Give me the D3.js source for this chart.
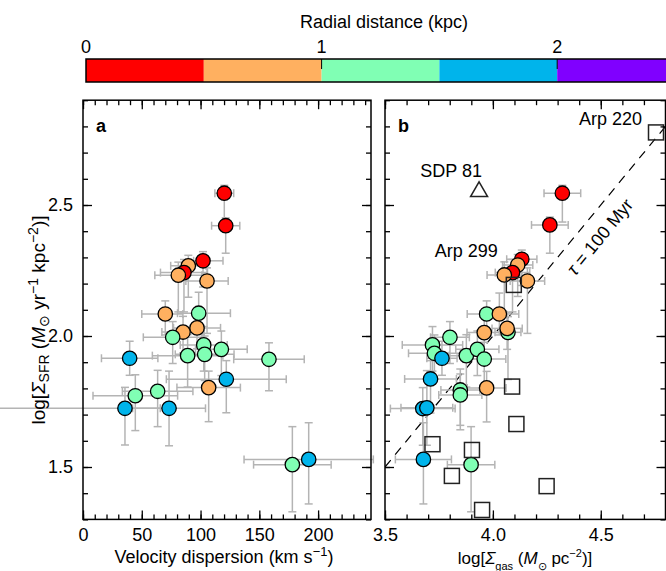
<!DOCTYPE html>
<html>
<head>
<meta charset="utf-8">
<script src="https://cdn.jsdelivr.net/npm/d3@7"></script>
<style>
  body { margin: 0; background: #fff; }
  svg { font-family: 'Liberation Sans', Arial, sans-serif; }
  .ax line { stroke: #000; stroke-width: 1.3; }
  .ax text { font-size: 18px; font-family: 'Liberation Sans', Arial, sans-serif; fill: #000; }
  .frame { fill: none; stroke: #000; stroke-width: 1.5; }
  .err { stroke: #b4b4b4; stroke-width: 1.5; fill: none; }
  .dot { stroke: #000; stroke-width: 1.3; }
  .other { fill: none; stroke: #222; stroke-width: 1.5; }
</style>
</head>
<body>
<script>
// colour bar: radial distance bins (kpc)
var binEdges = [0, 0.5, 1, 1.5, 2, 2.5];
var binColors = ['#ff0000', '#ffb060', '#80ffb4', '#00b4eb', '#8000ff'];
var barTicks = [0, 1, 2];

// panel a: velocity dispersion vs SFR surface density
var aVel   = [120.2, 121.4, 102.1, 89.6, 85.9, 81.1, 105.5, 70.0, 98.4, 85.1, 97.0, 76.3, 102.7,
              117.7, 89.0, 103.5, 39.7, 121.9, 106.9, 63.5, 44.5, 35.7, 73.2, 158.2, 178.1, 192.0];
var aVelLo = [8, 12, 8, 15, 20, 20, 18, 20, 18, 18, 20, 25, 20, 22, 30, 25, 24, 51, 27, 30, 36, 120, 31, 30, 33, 55];
var aVelHi = [8, 12, 17, 15, 20, 20, 18, 15, 27, 18, 20, 25, 20, 22, 30, 25, 24, 51, 27, 30, 36, 30, 31, 30, 33, 55];
var aSfr   = [2.545, 2.421, 2.287, 2.268, 2.242, 2.232, 2.210, 2.084, 2.087, 2.015, 2.031, 1.995, 1.966,
              1.949, 1.925, 1.930, 1.915, 1.835, 1.803, 1.789, 1.772, 1.724, 1.724, 1.911, 1.509, 1.529];
var aSfrLo = [0.12, 0.105, 0.10, 0.12, 0.15, 0.14, 0.20, 0.08, 0.08, 0.08, 0.08, 0.10, 0.10,
              0.10, 0.12, 0.10, 0.065, 0.128, 0.13, 0.135, 0.133, 0.14, 0.143, 0.12, 0.18, 0.17];
var aSfrHi = [0.03, 0.03, 0.035, 0.04, 0.05, 0.05, 0.05, 0.05, 0.08, 0.06, 0.06, 0.06, 0.07,
              0.07, 0.08, 0.07, 0.065, 0.071, 0.063, 0.08, 0.08, 0.08, 0.142, 0.063, 0.145, 0.14];
var aBin   = [0, 0, 0, 1, 0, 1, 1, 1, 2, 1, 1, 2, 2, 2, 2, 2, 3, 3, 1, 2, 2, 3, 3, 2, 2, 3];

// panel b: gas surface density vs SFR surface density
var bGas   = [4.322, 4.264, 4.134, 4.115, 4.091, 4.053, 4.160, 3.971, 4.030, 4.070, 4.066, 3.960, 3.801, 3.720,
              3.729, 3.877, 3.928, 3.960, 3.764, 3.711, 3.971, 3.849, 3.849, 3.675, 3.694, 3.899, 3.678];
var bGasErr = [0.085, 0.085, 0.07, 0.07, 0.08, 0.08, 0.08, 0.09, 0.09, 0.06, 0.07, 0.08, 0.09, 0.14,
               0.12, 0.08, 0.10, 0.10, 0.07, 0.12, 0.09, 0.09, 0.10, 0.15, 0.12, 0.11, 0.13];
var bSfr   = [2.545, 2.424, 2.293, 2.271, 2.242, 2.233, 2.210, 2.084, 2.084, 2.014, 2.029, 2.013, 1.995, 1.966,
              1.934, 1.925, 1.949, 1.912, 1.915, 1.836, 1.802, 1.794, 1.775, 1.723, 1.726, 1.509, 1.529];
var bSfrLo = [0.11, 0.108, 0.10, 0.12, 0.15, 0.14, 0.20, 0.08, 0.08, 0.18, 0.08, 0.08, 0.10, 0.10,
              0.10, 0.12, 0.10, 0.12, 0.065, 0.13, 0.13, 0.135, 0.133, 0.14, 0.143, 0.18, 0.17];
var bSfrHi = [0.03, 0.03, 0.035, 0.04, 0.05, 0.05, 0.05, 0.05, 0.08, 0.06, 0.06, 0.06, 0.06, 0.07,
              0.07, 0.08, 0.07, 0.064, 0.065, 0.07, 0.063, 0.08, 0.08, 0.08, 0.142, 0.145, 0.14];
var bBin   = [0, 0, 0, 1, 0, 1, 1, 2, 1, 2, 1, 1, 2, 2, 2, 2, 2, 2, 3, 3, 1, 2, 2, 3, 3, 2, 3];

// other galaxies (open squares) and SDP 81
var sqGas = [4.756, 4.097, 4.089, 4.109, 3.720, 3.903, 3.810, 4.249, 3.950];
var sqSfr = [2.777, 2.195, 1.807, 1.664, 1.587, 1.565, 1.466, 1.427, 1.336];
var sqName = ['Arp 220', 'Arp 299', '', '', '', '', '', '', ''];
var sdpGas = 3.936, sdpSfr = 2.551;
var tauLogOffset = -2; // tau = 100 Myr: log SFR = log gas - 2

var velTicks = [0, 50, 100, 150, 200];
var gasTicks = [3.5, 4.0, 4.5];
var sfrTicks = [1.5, 2.0, 2.5];

var svg = d3.select('body').append('svg')
  .attr('width', 666)
  .attr('height', 571);

var yScale = d3.scaleLinear().domain([1.3, 2.9]).range([519.4, 100.2]);
var xA = d3.scaleLinear().domain([0, 245]).range([83, 371]);
var xB = d3.scaleLinear().domain([3.5, 4.8]).range([385, 665.5]);
var cScale = d3.scaleLinear().domain([0, 2.5]).range([86, 675]);

// --- colour bar
svg.append('text')
  .attr('x', 384)
  .attr('y', 28)
  .attr('text-anchor', 'middle')
  .attr('font-size', 18)
  .text('Radial distance (kpc)');
svg.selectAll('rect.bin')
  .data(binColors)
  .enter().append('rect')
  .attr('class', 'bin')
  .attr('x', function(d, i) { return cScale(binEdges[i]); })
  .attr('y', 59)
  .attr('width', function(d, i) { return cScale(binEdges[i + 1]) - cScale(binEdges[i]); })
  .attr('height', 23)
  .attr('fill', function(d) { return d; });
svg.append('rect')
  .attr('class', 'frame')
  .attr('x', cScale(0))
  .attr('y', 59)
  .attr('width', cScale(2.5) - cScale(0))
  .attr('height', 23);
svg.selectAll('line.ctick')
  .data(barTicks.slice(1))
  .enter().append('line')
  .attr('class', 'ctick')
  .attr('x1', cScale).attr('x2', cScale)
  .attr('y1', 59).attr('y2', 69)
  .attr('stroke', '#000');
svg.selectAll('text.clabel')
  .data(barTicks)
  .enter().append('text')
  .attr('class', 'clabel')
  .attr('x', cScale)
  .attr('y', 53)
  .attr('text-anchor', 'middle')
  .attr('font-size', 18)
  .text(function(d) { return d; });

function richText(sel, parts, small, subShift) {
  var shift = 0;
  small = small || 13;
  subShift = subShift || 4;
  parts.forEach(function(p) {
    var target = p[1] === 'sub' ? subShift : (p[1] === 'sup' ? -7 : 0);
    var t = sel.append('tspan')
      .attr('dy', target - shift)
      .text(p[0]);
    if (p[1] === 'sub' || p[1] === 'sup') t.attr('font-size', small);
    if (p[1] === 'i') t.attr('font-style', 'italic');
    shift = target;
  });
}

function minorRange(scale, step) {
  var d = scale.domain();
  return d3.range(Math.ceil(d[0] / step - 1e-6), Math.floor(d[1] / step + 1e-6) + 1)
    .map(function(k) { return +(k * step).toFixed(3); });
}

function drawAxes(g, x, xMajor, xStep, xFmt, yLabels) {
  var x0 = x.range()[0], x1 = x.range()[1],
      y0 = yScale.range()[0], y1 = yScale.range()[1];
  var xMinor = minorRange(x, xStep), yMinor = minorRange(yScale, 0.1);
  var strip = function(a) { a.select('.domain').remove(); };
  // minor ticks, all four sides, pointing in
  g.append('g').attr('class', 'ax').attr('transform', 'translate(0,' + y0 + ')')
    .call(d3.axisBottom(x).tickValues(xMinor).tickSize(-5).tickFormat('')).call(strip);
  g.append('g').attr('class', 'ax').attr('transform', 'translate(0,' + y1 + ')')
    .call(d3.axisTop(x).tickValues(xMinor).tickSize(-5).tickFormat('')).call(strip);
  g.append('g').attr('class', 'ax').attr('transform', 'translate(' + x0 + ',0)')
    .call(d3.axisLeft(yScale).tickValues(yMinor).tickSize(-5).tickFormat('')).call(strip);
  g.append('g').attr('class', 'ax').attr('transform', 'translate(' + x1 + ',0)')
    .call(d3.axisRight(yScale).tickValues(yMinor).tickSize(-5).tickFormat('')).call(strip);
  // major ticks
  g.append('g').attr('class', 'ax').attr('transform', 'translate(0,' + y0 + ')')
    .call(d3.axisBottom(x).tickValues(xMajor).tickSize(-9).tickPadding(9).tickFormat(xFmt)).call(strip);
  g.append('g').attr('class', 'ax').attr('transform', 'translate(0,' + y1 + ')')
    .call(d3.axisTop(x).tickValues(xMajor).tickSize(-9).tickFormat('')).call(strip);
  g.append('g').attr('class', 'ax').attr('transform', 'translate(' + x0 + ',0)')
    .call(d3.axisLeft(yScale).tickValues(sfrTicks).tickSize(-9).tickPadding(10)
      .tickFormat(yLabels ? d3.format('.1f') : '')).call(strip);
  g.append('g').attr('class', 'ax').attr('transform', 'translate(' + x1 + ',0)')
    .call(d3.axisRight(yScale).tickValues(sfrTicks).tickSize(-9).tickFormat('')).call(strip);
  g.append('rect')
    .attr('class', 'frame')
    .attr('x', x0).attr('y', y1)
    .attr('width', x1 - x0).attr('height', y0 - y1);
}

function drawErrors(g, pts, x) {
  var cap = 4;
  var e = g.selectAll('g.eb').data(pts).enter().append('g').attr('class', 'err');
  e.append('line')
    .attr('x1', function(d) { return x(d.x - d.xlo); })
    .attr('x2', function(d) { return x(d.x + d.xhi); })
    .attr('y1', function(d) { return yScale(d.y); })
    .attr('y2', function(d) { return yScale(d.y); });
  e.append('line')
    .attr('x1', function(d) { return x(d.x); })
    .attr('x2', function(d) { return x(d.x); })
    .attr('y1', function(d) { return yScale(d.y - d.ylo); })
    .attr('y2', function(d) { return yScale(d.y + d.yhi); });
  e.each(function(d) {
    var s = d3.select(this);
    [d.x - d.xlo, d.x + d.xhi].forEach(function(v) {
      if (v < x.domain()[0]) return;
      s.append('line').attr('x1', x(v)).attr('x2', x(v))
        .attr('y1', yScale(d.y) - cap).attr('y2', yScale(d.y) + cap);
    });
    [d.y - d.ylo, d.y + d.yhi].forEach(function(v) {
      s.append('line').attr('y1', yScale(v)).attr('y2', yScale(v))
        .attr('x1', x(d.x) - cap).attr('x2', x(d.x) + cap);
    });
  });
}

function drawDots(g, pts, x) {
  g.selectAll('circle.dot').data(pts).enter().append('circle')
    .attr('class', 'dot')
    .attr('cx', function(d) { return x(d.x); })
    .attr('cy', function(d) { return yScale(d.y); })
    .attr('r', 7.2)
    .attr('fill', function(d) { return binColors[d.bin]; });
}

// --- panel a
var ptsA = aVel.map(function(v, i) {
  return {x: v, xlo: aVelLo[i], xhi: aVelHi[i], y: aSfr[i], ylo: aSfrLo[i], yhi: aSfrHi[i], bin: aBin[i]};
});
var gA = svg.append('g');
drawErrors(gA, ptsA, xA);
drawDots(gA, ptsA, xA);
drawAxes(gA, xA, velTicks, 10, d3.format('d'), true);
gA.append('text')
  .attr('x', 96).attr('y', 132)
  .attr('font-size', 18).attr('font-weight', 'bold')
  .text('a');
richText(gA.append('text')
  .attr('x', 224).attr('y', 563)
  .attr('text-anchor', 'middle')
  .attr('font-size', 18),
  [['Velocity dispersion (km s', ''], ['\u22121', 'sup'], [')', '']]);

// --- panel b
var ptsB = bGas.map(function(v, i) {
  return {x: v, xlo: bGasErr[i], xhi: bGasErr[i], y: bSfr[i], ylo: bSfrLo[i], yhi: bSfrHi[i], bin: bBin[i]};
});
var gB = svg.append('g');
svg.append('clipPath').attr('id', 'clipB')
  .append('rect')
  .attr('x', xB.range()[0]).attr('y', yScale.range()[1])
  .attr('width', xB.range()[1] - xB.range()[0])
  .attr('height', yScale.range()[0] - yScale.range()[1]);
var tauPts = xB.domain().map(function(v) { return [v, v + tauLogOffset]; });
gB.append('line')
  .attr('clip-path', 'url(#clipB)')
  .attr('x1', xB(tauPts[0][0])).attr('y1', yScale(tauPts[0][1]))
  .attr('x2', xB(tauPts[1][0])).attr('y2', yScale(tauPts[1][1]))
  .attr('stroke', '#000')
  .attr('stroke-width', 1.2)
  .attr('stroke-dasharray', '9,7');
drawErrors(gB, ptsB, xB);
drawDots(gB, ptsB, xB);
gB.selectAll('rect.sq')
  .data(sqGas)
  .enter().append('rect')
  .attr('class', 'other')
  .attr('x', function(d) { return xB(d) - 7.5; })
  .attr('y', function(d, i) { return yScale(sqSfr[i]) - 7.5; })
  .attr('width', 15)
  .attr('height', 15);
gB.append('path')
  .attr('class', 'other')
  .attr('stroke', '#000')
  .attr('transform', 'translate(' + xB(sdpGas) + ',' + yScale(sdpSfr) + ')')
  .attr('d', d3.symbol().type(d3.symbolTriangle).size(125)());
gB.append('text')
  .attr('x', xB(sdpGas) + 3).attr('y', yScale(sdpSfr) - 15)
  .attr('text-anchor', 'end')
  .attr('font-size', 18)
  .text('SDP 81');
gB.append('text')
  .attr('x', xB(sqGas[0]) - 14).attr('y', yScale(sqSfr[0]) - 7)
  .attr('text-anchor', 'end')
  .attr('font-size', 18)
  .text(sqName[0]);
gB.append('text')
  .attr('x', xB(sqGas[1]) - 16).attr('y', yScale(sqSfr[1]) - 28)
  .attr('text-anchor', 'end')
  .attr('font-size', 18)
  .text(sqName[1]);
var ang = Math.atan2(yScale(tauPts[1][1]) - yScale(tauPts[0][1]),
                     xB(tauPts[1][0]) - xB(tauPts[0][0])) * 180 / Math.PI;
var tauLab = gB.append('text')
  .attr('transform', 'translate(600,237) rotate(' + ang + ')')
  .attr('text-anchor', 'middle')
  .attr('dominant-baseline', 'central')
  .attr('font-size', 18);
richText(tauLab, [['\u03c4', 'i'], [' = 100 Myr', '']]);
drawAxes(gB, xB, gasTicks, 0.1, d3.format('.1f'), false);
gB.append('text')
  .attr('x', 398).attr('y', 132)
  .attr('font-size', 18).attr('font-weight', 'bold')
  .text('b');
richText(gB.append('text')
  .attr('x', 525).attr('y', 564)
  .attr('text-anchor', 'middle')
  .attr('font-size', 17),
  [['log[', ''], ['\u03a3', 'i'], ['gas', 'sub'], [' (', ''], ['M', 'i'], ['\u2299', 'sub'],
   [' pc', ''], ['\u22122', 'sup'], [')]', '']], 11, 6);

// --- shared y label
richText(svg.append('text')
  .attr('transform', 'translate(45,320) rotate(-90)')
  .attr('text-anchor', 'middle')
  .attr('font-size', 19),
  [['log[', ''], ['\u03a3', 'i'], ['SFR', 'sub'], [' (', ''], ['M', 'i'], ['\u2299', 'sub'],
   [' yr', ''], ['\u22121', 'sup'], [' kpc', ''], ['\u22122', 'sup'], [')]', '']], 14);
</script>
</body>
</html>
